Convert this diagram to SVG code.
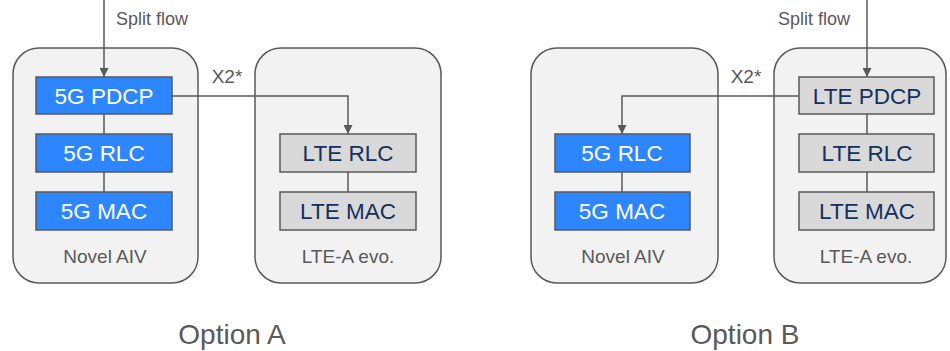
<svg xmlns="http://www.w3.org/2000/svg" width="950" height="351" viewBox="0 0 950 351">
<defs>
<style>
.cont{fill:#f2f2f2;stroke:#595959;stroke-width:1.5}
.blue{fill:#2e86fe;stroke:#595959;stroke-width:1.5}
.grey{fill:#d9d9d9;stroke:#595959;stroke-width:1.5}
.bt{font-family:"Liberation Sans",Arial,sans-serif;font-size:22.5px;fill:#ffffff;text-anchor:middle}
.gt{font-family:"Liberation Sans",Arial,sans-serif;font-size:22.5px;fill:#13305e;text-anchor:middle}
.lbl{font-family:"Liberation Sans",Arial,sans-serif;font-size:19px;fill:#595959;text-anchor:middle}
.sf{font-family:"Liberation Sans",Arial,sans-serif;font-size:18px;fill:#595959}
.opt{font-family:"Liberation Sans",Arial,sans-serif;font-size:28px;fill:#595959;text-anchor:middle}
.ln{fill:none;stroke:#595959;stroke-width:1.5}
</style>
<marker id="ah" viewBox="0 0 10 10" refX="10" refY="5" markerWidth="9" markerHeight="9" markerUnits="userSpaceOnUse" orient="auto">
<path d="M0,0 L10,5 L0,10 Z" fill="#595959"/>
</marker>
</defs>

<g id="containerA1"><rect class="cont" x="13" y="48" width="185" height="235" rx="26"/><text class="lbl" x="105" y="263">Novel AIV</text></g>
<g id="containerA2"><rect class="cont" x="255" y="48" width="186" height="235" rx="26"/><text class="lbl" x="348" y="263">LTE-A evo.</text></g>
<g id="containerB1"><rect class="cont" x="531" y="48" width="187" height="235" rx="26"/><text class="lbl" x="623" y="263">Novel AIV</text></g>
<g id="containerB2"><rect class="cont" x="774" y="48" width="172" height="235" rx="26"/><text class="lbl" x="866" y="263">LTE-A evo.</text></g>

<g id="connectors">
<line class="ln" x1="104" y1="0" x2="104" y2="77" marker-end="url(#ah)"/>
<line class="ln" x1="104" y1="114" x2="104" y2="134"/>
<line class="ln" x1="104" y1="172" x2="104" y2="192"/>
<polyline class="ln" points="172,96 348,96 348,134" marker-end="url(#ah)"/>
<line class="ln" x1="348" y1="172" x2="348" y2="192"/>
<line class="ln" x1="867" y1="0" x2="867" y2="77" marker-end="url(#ah)"/>
<line class="ln" x1="867" y1="114" x2="867" y2="134"/>
<line class="ln" x1="867" y1="172" x2="867" y2="192"/>
<polyline class="ln" points="799,96 622,96 622,134" marker-end="url(#ah)"/>
<line class="ln" x1="622" y1="172" x2="622" y2="192"/>
<text class="sf" x="116" y="25">Split flow</text>
<text class="sf" x="778" y="25">Split flow</text>
<text class="lbl" x="227" y="83">X2*</text>
<text class="lbl" x="746" y="83">X2*</text>
</g>

<g id="a-5g-pdcp"><rect class="blue" x="36" y="77" width="136" height="37"/><text class="bt" x="104" y="104">5G PDCP</text></g>
<g id="a-5g-rlc"><rect class="blue" x="36" y="134" width="136" height="38"/><text class="bt" x="104" y="161">5G RLC</text></g>
<g id="a-5g-mac"><rect class="blue" x="36" y="192" width="136" height="38"/><text class="bt" x="104" y="219">5G MAC</text></g>
<g id="a-lte-rlc"><rect class="grey" x="280" y="134" width="136" height="38"/><text class="gt" x="348" y="161">LTE RLC</text></g>
<g id="a-lte-mac"><rect class="grey" x="280" y="192" width="136" height="38"/><text class="gt" x="348" y="219">LTE MAC</text></g>

<g id="b-lte-pdcp"><rect class="grey" x="799" y="77" width="135" height="37"/><text class="gt" x="867" y="104">LTE PDCP</text></g>
<g id="b-lte-rlc"><rect class="grey" x="799" y="134" width="135" height="38"/><text class="gt" x="867" y="161">LTE RLC</text></g>
<g id="b-lte-mac"><rect class="grey" x="799" y="192" width="135" height="38"/><text class="gt" x="867" y="219">LTE MAC</text></g>
<g id="b-5g-rlc"><rect class="blue" x="555" y="134" width="135" height="38"/><text class="bt" x="622" y="161">5G RLC</text></g>
<g id="b-5g-mac"><rect class="blue" x="555" y="192" width="135" height="38"/><text class="bt" x="622" y="219">5G MAC</text></g>

<g id="titles">
<text class="opt" x="232" y="344">Option A</text>
<text class="opt" x="745" y="344">Option B</text>
</g>
</svg>
